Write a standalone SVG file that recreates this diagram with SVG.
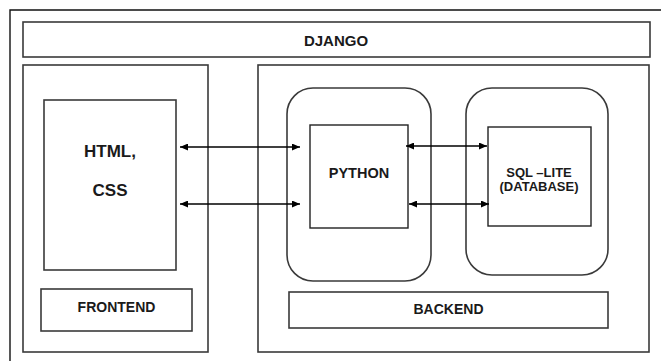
<svg xmlns="http://www.w3.org/2000/svg" width="661" height="361" viewBox="0 0 661 361">
  <defs>
    <style>
      .box { fill: #ffffff; stroke: #3a3a3a; stroke-width: 1.6; }
      .inner { fill: #ffffff; stroke: #222222; stroke-width: 1.4; }
      .frame { fill: none; stroke: #111111; stroke-width: 1.4; }
      .lbl { font-family: "Liberation Sans", Arial, sans-serif; font-weight: bold; fill: #1a1a1a; text-anchor: middle; }
      .link { fill: none; stroke: #000000; stroke-width: 1.3; marker-start: url(#head); marker-end: url(#head); }
    </style>
    <marker id="head" viewBox="0 0 8 7" refX="8" refY="3.5" markerWidth="8" markerHeight="7" markerUnits="userSpaceOnUse" orient="auto-start-reverse">
      <path d="M0,0 L8,3.5 L0,7 Z" fill="#000000"/>
    </marker>
  </defs>

  <rect width="661" height="361" fill="#ffffff"/>

  <!-- open outer frame: only the top and left edges are drawn -->
  <path class="frame" d="M10,361 V10 H661"/>

  <g id="django">
    <rect class="box" x="23" y="22" width="627" height="35"/>
    <text class="lbl" x="336" y="46" font-size="15">DJANGO</text>
  </g>

  <g id="frontend-panel">
    <rect class="box" x="23" y="65" width="185" height="287"/>
  </g>

  <g id="backend-panel">
    <rect class="box" x="258" y="65" width="391" height="287"/>
  </g>

  <g id="html-css">
    <rect class="box" x="44" y="100" width="132" height="170"/>
    <text class="lbl" x="110" y="157" font-size="17">HTML,</text>
    <text class="lbl" x="110" y="196" font-size="17">CSS</text>
  </g>

  <g id="frontend-label">
    <rect class="box" x="41" y="289" width="151" height="42"/>
    <text class="lbl" x="116.5" y="312" font-size="14">FRONTEND</text>
  </g>

  <g id="python-group">
    <rect class="box" x="287" y="88" width="144" height="193" rx="26" ry="26"/>
  </g>

  <g id="python">
    <rect class="inner" x="310" y="125" width="98" height="103"/>
    <text class="lbl" x="359" y="178" font-size="14.5">PYTHON</text>
  </g>

  <g id="sqlite-group">
    <rect class="box" x="466" y="88" width="142" height="187" rx="26" ry="26"/>
  </g>

  <g id="sqlite">
    <rect class="inner" x="488" y="127" width="103" height="99"/>
    <text class="lbl" x="539" y="177" font-size="13">SQL –LITE</text>
    <text class="lbl" x="539" y="191" font-size="13">(DATABASE)</text>
  </g>

  <g id="backend-label">
    <rect class="box" x="289" y="292" width="319" height="36"/>
    <text class="lbl" x="448.5" y="314" font-size="14">BACKEND</text>
  </g>

  <g id="connectors">
    <line class="link" x1="180" y1="147" x2="300" y2="147"/>
    <line class="link" x1="180" y1="204" x2="300" y2="204"/>
    <line class="link" x1="406" y1="146" x2="487" y2="146"/>
    <line class="link" x1="409" y1="204" x2="489" y2="204"/>
  </g>
</svg>
